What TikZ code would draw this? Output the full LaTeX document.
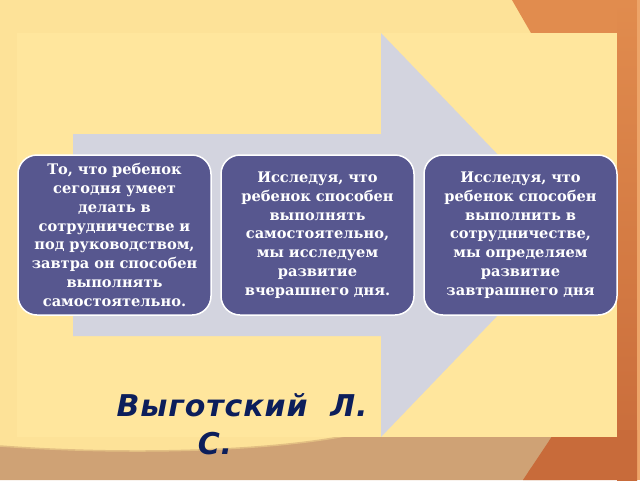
\documentclass[tikz,border=0pt]{standalone}
\usepackage{fontspec}
\newfontfamily\boxfont{DejaVu Serif}
\newfontfamily\titlefont[LetterSpace=3]{DejaVu Sans}
\definecolor{bgout}{HTML}{FDE298}
\definecolor{bginner}{HTML}{FFE69D}
\definecolor{orangeA}{HTML}{E18C4E}
\definecolor{orangeD}{HTML}{C86B3A}
\definecolor{orangeL}{HTML}{EDA468}
\definecolor{tanband}{HTML}{CFA275}
\definecolor{tanedge}{HTML}{E2BE82}
\definecolor{arrowgray}{HTML}{D3D4DF}
\definecolor{boxblue}{HTML}{57578F}
\definecolor{titlenavy}{HTML}{0C1E5B}
\tikzset{
  infobox/.style={draw=white, line width=1.5pt, fill=boxblue, rounded corners=19pt,
    minimum width=193pt, minimum height=160pt, inner sep=0pt},
  boxtext/.style={text=white, align=center, text width=190pt,
    font=\boxfont\bfseries\fontsize{14.6}{18.8}\selectfont},
  titletext/.style={text=titlenavy, anchor=base,
    font=\titlefont\bfseries\itshape\fontsize{30}{34}\selectfont}
}
\begin{document}
\begin{tikzpicture}[x=1pt,y=-1pt]
\useasboundingbox (0,0) rectangle (640,480);
% background
\fill[bgout] (0,0) rectangle (640,480);
% orange top-right piece and right strip
\fill[orangeA] (512,0) -- (637,0) -- (637,33) -- (531,33) -- cycle;
\shade[top color=orangeA, bottom color=orangeD] (617,0) rectangle (637,480);
\fill[orangeL] (637,0) rectangle (640,480);
% bottom tan band
\fill[tanband] (0,446) .. controls (120,455) and (260,452) .. (345,436)
  -- (560,436) -- (560,480) -- (0,480) -- cycle;
\draw[tanedge, line width=1.5pt] (0,446) .. controls (120,455) and (260,452) .. (345,436);
% dark orange bottom-right
\fill[orangeD] (556,430) .. controls (542,452) and (532,466) .. (523,480)
  -- (637,480) -- (637,430) -- cycle;
% inner panel
\fill[bginner] (17,33) rectangle (617,437);
% big gray arrow
\fill[arrowgray] (73,134) -- (381,134) -- (381,33) -- (575,235)
  -- (381,437) -- (381,336) -- (73,336) -- cycle;
% boxes
\node[infobox] (b1) at (114.5,235) {};
\node[infobox] (b2) at (317.5,235) {};
\node[infobox] (b3) at (520.5,235) {};
\node[boxtext] (t1) at (b1.center) {То, что ребенок\\ сегодня умеет\\ делать в\\ сотрудничестве и\\ под руководством,\\ завтра он способен\\ выполнять\\ самостоятельно.};
\node[boxtext] (t2) at (b2.center) {Исследуя, что\\ ребенок способен\\ выполнять\\ самостоятельно,\\ мы исследуем\\ развитие\\ вчерашнего дня.};
\node[boxtext] (t3) at (b3.center) {Исследуя, что\\ ребенок способен\\ выполнить в\\ сотрудничестве,\\ мы определяем\\ развитие\\ завтрашнего дня};
% author
\node[titletext] (a1) at (242,416) {Выготский\ \ Л.};
\node[titletext] (a2) at (215,454) {С.};
\end{tikzpicture}
\end{document}
